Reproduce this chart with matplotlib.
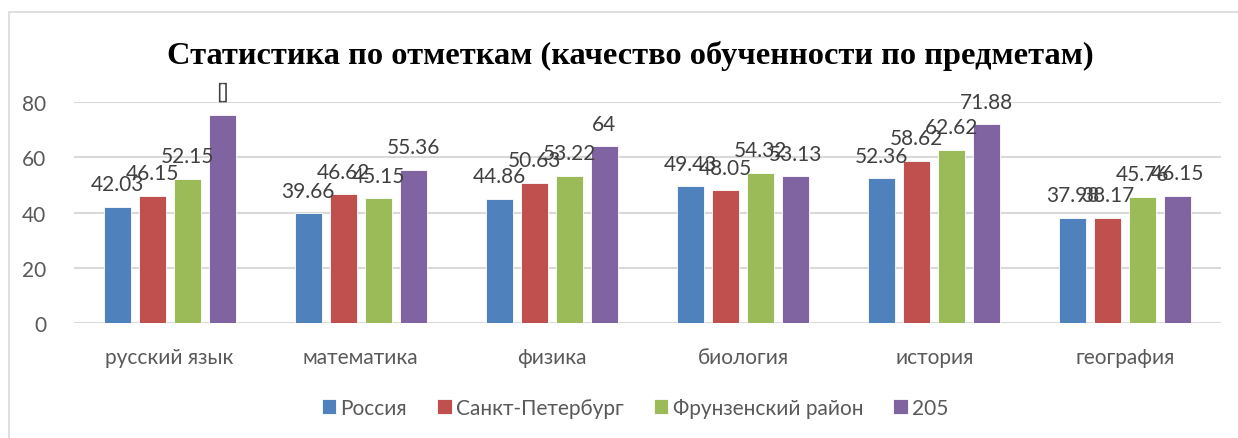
import matplotlib.pyplot as plt
import matplotlib.patches as patches
import numpy as np

# Data
subjects = ['русский язык', 'математика', 'физика', 'биология', 'история', 'география']
series_names = ['Россия', 'Санкт-Петербург', 'Фрунзенский район', '205']
russia = [42.03, 39.66, 44.86, 49.43, 52.36, 37.98]
spb = [46.15, 46.62, 50.63, 48.05, 58.62, 38.17]
frunz = [52.15, 45.15, 53.22, 54.32, 62.62, 45.76]
school = [75.4, 55.36, 64, 53.13, 71.88, 46.15]
school_labels = ['[]', '55.36', '64', '53.13', '71.88', '46.15']

colors = ['#4F81BD', '#C0504D', '#9BBB59', '#8064A2']
title = 'Статистика по отметкам (качество обученности по предметам)'

W, H = 1238, 439
fig = plt.figure(figsize=(W / 100, H / 100), dpi=100)
ax = fig.add_axes([74 / W, 1 - 324 / H, (1221 - 74) / W, (324 - 103) / H])

# Chart border (Excel style)
fig.patches.append(patches.Rectangle((9 / W, -0.1), 1.2, 1 - 13 / H + 0.1,
                                     transform=fig.transFigure, fill=False,
                                     edgecolor='#D9D9D9', linewidth=1.2))

x = np.arange(len(subjects))
bw = 0.141
step = 0.183
all_series = [russia, spb, frunz, school]

for i, vals in enumerate(all_series):
    pos = x + (i - 1.5) * step
    ax.bar(pos, vals, width=bw, color=colors[i], edgecolor='white',
           linewidth=0.6, label=series_names[i], zorder=3)
    labels = school_labels if i == 3 else [f'{v:g}' for v in vals]
    for px, v, lab in zip(pos, vals, labels):
        ax.annotate(lab, (px, v), xytext=(0, 12), textcoords='offset points',
                    ha='center', va='baseline', fontsize=15, family='Lato',
                    color='#404040', zorder=4)

ax.set_xlim(-0.5, len(subjects) - 0.5)
ax.set_ylim(0, 80)
ax.set_yticks([0, 20, 40, 60, 80])
ax.set_xticks(x)
ax.set_xticklabels(subjects)
ax.yaxis.grid(True, color='#D9D9D9', linewidth=1.5, zorder=0)
for s in ax.spines.values():
    s.set_visible(False)
ax.tick_params(axis='both', length=0, labelsize=15, labelcolor='#595959')
ax.tick_params(axis='y', pad=20)
ax.tick_params(axis='x', pad=17)
for t in ax.get_xticklabels() + ax.get_yticklabels():
    t.set_family('Lato')

fig.text(630 / W, 1 - 56 / H, title, ha='center', va='center',
         fontsize=23.3, fontweight='bold', family='Liberation Serif', color='black')

leg = fig.legend(loc='center', bbox_to_anchor=(635 / W, 1 - 409 / H), ncol=4,
                 frameon=False, prop={'family': 'Lato', 'size': 15},
                 handlelength=0.7, handleheight=0.7, handletextpad=0.2,
                 columnspacing=1.45, labelcolor='#595959')

fig.savefig('out.png', dpi=100)
